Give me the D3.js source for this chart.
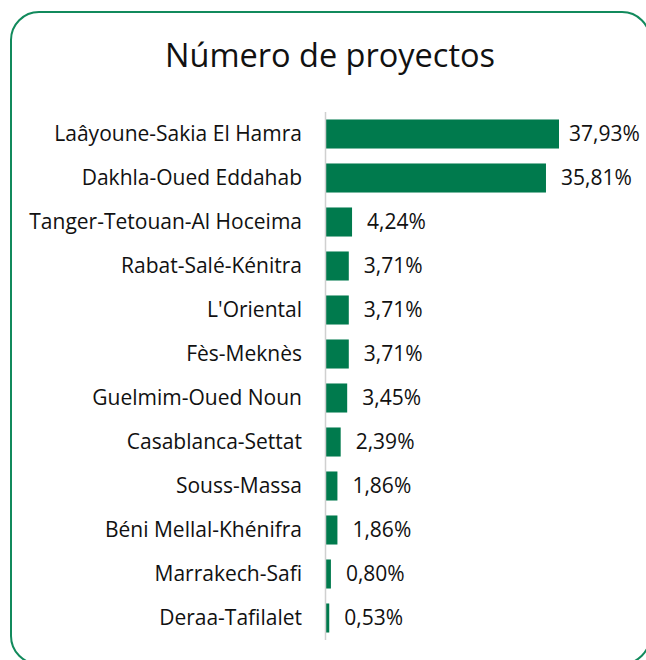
<!DOCTYPE html>
<html>
<head>
<meta charset="utf-8">
<script src="https://cdn.jsdelivr.net/npm/d3@7"></script>
<style>
  body { margin: 0; background: #fff; }
  svg { display: block; font-family: "Open Sans", "Liberation Sans", sans-serif; }
</style>
</head>
<body>
<div id="chart"></div>
<script>
var regions = ['Laâyoune-Sakia El Hamra', 'Dakhla-Oued Eddahab', 'Tanger-Tetouan-Al Hoceima',
    'Rabat-Salé-Kénitra', "L'Oriental", 'Fès-Meknès', 'Guelmim-Oued Noun',
    'Casablanca-Settat', 'Souss-Massa', 'Béni Mellal-Khénifra', 'Marrakech-Safi', 'Deraa-Tafilalet'];
var shares = [37.93, 35.81, 4.24, 3.71, 3.71, 3.71, 3.45, 2.39, 1.86, 1.86, 0.80, 0.53];
var title = 'Número de proyectos';

var width = 646;
var height = 660;
var axisX = 326;
var green = '#007a4d';

var svg = d3.select('#chart').append('svg')
    .attr('width', width)
    .attr('height', height);

// rounded frame
svg.append('rect')
    .attr('x', 11)
    .attr('y', 12)
    .attr('width', 639)
    .attr('height', 652)
    .attr('rx', 28)
    .attr('fill', 'none')
    .attr('stroke', '#118a5c')
    .attr('stroke-width', 2);

svg.append('text')
    .attr('x', 330)
    .attr('y', 67)
    .attr('text-anchor', 'middle')
    .attr('font-size', 32.5)
    .attr('fill', '#111')
    .text(title);

var x = d3.scaleLinear().domain([0, 37.93]).range([axisX, 559]);
var y = d3.scaleBand().domain(regions).range([112, 640]).paddingInner(0.34).paddingOuter(0.17);

var data = regions.map(function(d, i) { return { name: d, value: shares[i] }; });

svg.append('g')
    .selectAll('rect')
    .data(data)
    .join('rect')
    .attr('x', x(0))
    .attr('y', function(d) { return y(d.name); })
    .attr('width', function(d) { return x(d.value) - x(0); })
    .attr('height', y.bandwidth())
    .attr('fill', green);

// vertical axis line
svg.append('line')
    .attr('x1', axisX - 0.5)
    .attr('x2', axisX - 0.5)
    .attr('y1', 112)
    .attr('y2', 640)
    .attr('stroke', '#d0d0d0')
    .attr('stroke-width', 1.5);

svg.append('g')
    .selectAll('text')
    .data(data)
    .join('text')
    .attr('x', 302)
    .attr('y', function(d) { return y(d.name) + y.bandwidth() / 2; })
    .attr('dy', '0.35em')
    .attr('text-anchor', 'end')
    .attr('font-size', 21)
    .attr('fill', '#111')
    .text(function(d) { return d.name; });

// value labels, the longest one pulled in so it stays inside the frame
svg.append('g')
    .selectAll('text')
    .data(data)
    .join('text')
    .attr('x', function(d) { return Math.min(x(d.value) + 15, 569); })
    .attr('y', function(d) { return y(d.name) + y.bandwidth() / 2; })
    .attr('dy', '0.35em')
    .attr('font-size', 21)
    .attr('fill', '#111')
    .text(function(d) { return d.value.toFixed(2).replace('.', ',') + '%'; });
</script>
</body>
</html>
